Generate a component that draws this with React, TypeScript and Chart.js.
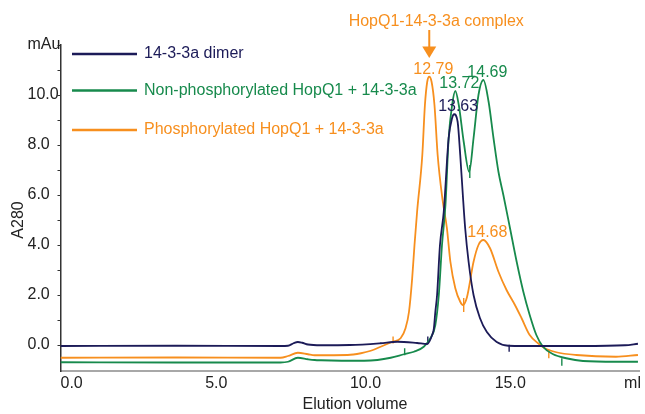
import React, { useEffect, useRef } from 'react';
import { Chart, registerables } from 'chart.js';

Chart.register(...registerables);

const FONT = "'Liberation Sans', Arial, Helvetica, sans-serif";

// ---- data ----
const seriesNames = ['14-3-3a dimer', 'Non-phosphorylated HopQ1 + 14-3-3a', 'Phosphorylated HopQ1 + 14-3-3a'];

const dimerX = [0, 4, 7.6, 7.86, 8.05, 8.2, 8.35, 8.55, 9.0, 10.0, 11.05, 11.64, 12.32, 12.67, 12.84, 12.9, 12.95, 13.01, 13.11, 13.24, 13.41, 13.53, 13.6, 13.72, 13.81, 13.9, 13.98, 14.1, 14.27, 14.49, 14.73, 15.07, 15.47, 16.0, 18.0, 19.5, 19.95];
const dimerY = [-0.04, -0.03, -0.04, -0.03, 0.07, 0.12, 0.09, 0.02, -0.01, 0.0, 0.07, 0.13, 0.08, 0.04, 0.4, 0.67, 1.33, 2.0, 4.0, 5.32, 8.28, 9.08, 9.23, 8.93, 7.6, 6.0, 4.68, 3.32, 2.0, 1.08, 0.52, 0.12, -0.03, -0.04, -0.04, -0.01, 0.05];

const nonPhosX = [0, 4, 7.6, 7.86, 8.2, 8.55, 8.78, 9.0, 10.49, 10.95, 11.41, 11.87, 12.21, 12.55, 12.78, 12.95, 13.07, 13.18, 13.3, 13.41, 13.53, 13.64, 13.76, 13.93, 14.12, 14.27, 14.44, 14.61, 14.79, 14.96, 15.13, 15.3, 15.53, 15.76, 15.99, 16.21, 16.44, 16.67, 17.02, 17.47, 18.05, 19.19, 19.95];
const nonPhosY = [-0.69, -0.7, -0.7, -0.67, -0.51, -0.57, -0.6, -0.61, -0.63, -0.6, -0.51, -0.37, -0.27, -0.07, 0.27, 0.8, 2.0, 4.0, 5.6, 8.27, 9.6, 10.16, 9.6, 8.13, 6.93, 8.27, 10.0, 10.6, 9.73, 8.27, 6.93, 6.0, 4.67, 3.33, 2.13, 1.2, 0.4, -0.07, -0.37, -0.53, -0.64, -0.67, -0.67];

const phosX = [0, 4, 7.6, 7.86, 8.2, 8.55, 8.78, 9.92, 10.38, 10.72, 11.06, 11.47, 11.75, 11.92, 12.04, 12.15, 12.23, 12.32, 12.5, 12.59, 12.67, 12.74, 12.82, 12.92, 13.03, 13.2, 13.35, 13.47, 13.64, 13.81, 13.9, 14.04, 14.27, 14.44, 14.61, 14.84, 15.13, 15.41, 15.7, 15.93, 16.21, 16.5, 16.73, 17.13, 17.82, 19.19, 19.95];
const phosY = [-0.51, -0.5, -0.51, -0.44, -0.31, -0.37, -0.41, -0.4, -0.33, -0.23, -0.07, 0.13, 0.27, 0.67, 1.33, 2.67, 4.0, 5.33, 7.6, 9.6, 10.53, 10.73, 10.53, 9.6, 7.6, 5.8, 4.67, 3.33, 2.27, 1.73, 1.6, 1.9, 3.33, 4.0, 4.2, 3.87, 2.93, 2.2, 1.6, 1.07, 0.4, 0.07, -0.13, -0.29, -0.4, -0.47, -0.4];

// fraction / peak-boundary marks on each trace
const dimerMarkX = [12.69, 15.5];
const dimerMarkY = [0.2, -0.13];
const nonPhosMarkX = [11.89, 14.14, 17.32];
const nonPhosMarkY = [-0.27, 6.94, -0.68];
const phosMarkX = [11.49, 13.93, 16.87];
const phosMarkY = [0.2, 1.6, -0.36];

// peak labels: text and series index
const peakLabelText = ['12.79', '13.72', '14.69', '13.63', '14.68'];
const peakLabelSeries = [2, 1, 1, 0, 2];

const annotationText = 'HopQ1-14-3-3a complex';
const annotationSeries = 2;
const annotationPeak = 12.79;

const xTickValues = [0, 5, 10, 15, 19.47];
const xTickLabels = ['0.0', '5.0', '10.0', '15.0', 'ml'];
const yTickValues = [0, 1, 2, 3, 4, 5, 6, 7, 8, 9, 10, 11, 12];
const yTickLabels = ['0.0', '', '2.0', '', '4.0', '', '6.0', '', '8.0', '', '10.0', '', 'mAu'];

const xTitle = 'Elution volume';
const yTitle = 'A280';

// ---- styles ----
const COLORS = ['#1c1b58', '#178a4c', '#f78f1e'];
const markRadius = [[3.5, 3.5], [3.5, 6.5, 3.8], [3.5, 7, 4.2]];

const zip = (xs: number[], ys: number[]) => xs.map((x, i) => ({ x, y: ys[i] }));
const seriesData = [zip(dimerX, dimerY), zip(nonPhosX, nonPhosY), zip(phosX, phosY)];
const markData = [zip(dimerMarkX, dimerMarkY), zip(nonPhosMarkX, nonPhosMarkY), zip(phosMarkX, phosMarkY)];

function findPeak(series: { x: number; y: number }[], near: number) {
  let best = series[0];
  let bestY = -Infinity;
  for (const p of series) {
    if (Math.abs(p.x - near) <= 0.3 && p.y > bestY) {
      bestY = p.y;
      best = p;
    }
  }
  return best;
}

const overlayPlugin = {
  id: 'overlay',
  afterDatasetsDraw(chart: any) {
    const { ctx, scales } = chart;
    const xs = scales.x;
    const ys = scales.y;
    ctx.save();
    ctx.font = `16px ${FONT}`;

    // peak labels
    ctx.textAlign = 'center';
    ctx.textBaseline = 'alphabetic';
    peakLabelText.forEach((t, i) => {
      const s = peakLabelSeries[i];
      const p = findPeak(seriesData[s], parseFloat(t));
      const px = xs.getPixelForValue(p.x);
      const py = ys.getPixelForValue(p.y);
      ctx.fillStyle = COLORS[s];
      ctx.fillText(t, px + 4, py - 3);
    });

    // annotation with arrow
    const ap = findPeak(seriesData[annotationSeries], annotationPeak);
    const ax = xs.getPixelForValue(ap.x);
    ctx.fillStyle = COLORS[annotationSeries];
    ctx.strokeStyle = COLORS[annotationSeries];
    ctx.textBaseline = 'middle';
    ctx.fillText(annotationText, ax + 7, 22);
    ctx.lineWidth = 2;
    ctx.beginPath();
    ctx.moveTo(ax, 30);
    ctx.lineTo(ax, 48);
    ctx.stroke();
    ctx.beginPath();
    ctx.moveTo(ax - 7, 46.5);
    ctx.lineTo(ax + 7, 46.5);
    ctx.lineTo(ax, 58);
    ctx.closePath();
    ctx.fill();

    // legend
    const legendY = [54, 90.5, 130];
    ctx.textAlign = 'left';
    ctx.textBaseline = 'middle';
    seriesNames.forEach((name, i) => {
      ctx.strokeStyle = COLORS[i];
      ctx.lineWidth = 2.6;
      ctx.beginPath();
      ctx.moveTo(72, legendY[i]);
      ctx.lineTo(137, legendY[i]);
      ctx.stroke();
      ctx.fillStyle = COLORS[i];
      ctx.fillText(name, 144, legendY[i]);
    });

    // axis titles
    ctx.fillStyle = '#222';
    ctx.textAlign = 'center';
    ctx.textBaseline = 'middle';
    ctx.fillText(xTitle, 355, 405);
    ctx.translate(19, 220);
    ctx.rotate(-Math.PI / 2);
    ctx.fillText(yTitle, 0, 0);
    ctx.restore();
  },
};

export default function App() {
  const ref = useRef<HTMLCanvasElement>(null);

  useEffect(() => {
    document.body.style.margin = '0';
    const canvas = ref.current;
    if (!canvas) return;

    const datasets: any[] = seriesNames.map((name, i) => ({
      label: name,
      data: seriesData[i],
      borderColor: COLORS[i],
      backgroundColor: COLORS[i],
      borderWidth: 1.8,
      pointRadius: 0,
      cubicInterpolationMode: 'monotone',
      fill: false,
    }));
    markData.forEach((d, i) => {
      datasets.push({
        label: seriesNames[i] + ' marks',
        data: d,
        showLine: false,
        pointStyle: 'line',
        pointRotation: 90,
        pointRadius: markRadius[i],
        pointBorderWidth: 1.4,
        pointBorderColor: COLORS[i],
        borderColor: COLORS[i],
      });
    });

    const chart = new Chart(canvas, {
      type: 'line',
      data: { datasets },
      plugins: [overlayPlugin],
      options: {
        animation: false,
        responsive: false,
        events: [],
        layout: { padding: { left: 27.5, right: 2, top: 45, bottom: 0 } },
        plugins: { legend: { display: false }, tooltip: { enabled: false } },
        scales: {
          x: {
            type: 'linear',
            min: 0,
            max: 20,
            afterBuildTicks: (s: any) => {
              s.ticks = xTickValues.map((v) => ({ value: v }));
            },
            afterFit: (s: any) => {
              s.height = 43;
              s.paddingLeft = 0;
              s.paddingRight = 0;
            },
            ticks: {
              align: 'start',
              autoSkip: false,
              maxRotation: 0,
              minRotation: 0,
              padding: 3,
              color: '#222',
              font: { family: FONT, size: 16 },
              callback: (_v: any, i: number) => xTickLabels[i],
            },
            grid: { display: false, drawTicks: false },
            border: { display: true, dash: [8, 6], color: '#a8a8a8', width: 2 },
          },
          y: {
            type: 'linear',
            min: -1.04,
            max: 12,
            afterBuildTicks: (s: any) => {
              s.ticks = yTickValues.map((v) => ({ value: v }));
            },
            afterFit: (s: any) => {
              s.width = 33;
              s.paddingTop = 0;
              s.paddingBottom = 0;
            },
            ticks: {
              crossAlign: 'far',
              autoSkip: false,
              padding: 0,
              color: '#222',
              font: { family: FONT, size: 16 },
              callback: (_v: any, i: number) => yTickLabels[i],
            },
            grid: { drawOnChartArea: false, drawTicks: true, tickLength: 3, color: '#333', lineWidth: 1 },
            border: { display: true, color: '#333', width: 1.5 },
          },
        },
      } as any,
    });
    return () => chart.destroy();
  }, []);

  return (
    <div style={{ position: 'fixed', left: 0, top: 0, width: 645, height: 414, background: '#fff' }}>
      <canvas ref={ref} width={645} height={414} style={{ display: 'block', width: 645, height: 414 }} />
    </div>
  );
}
